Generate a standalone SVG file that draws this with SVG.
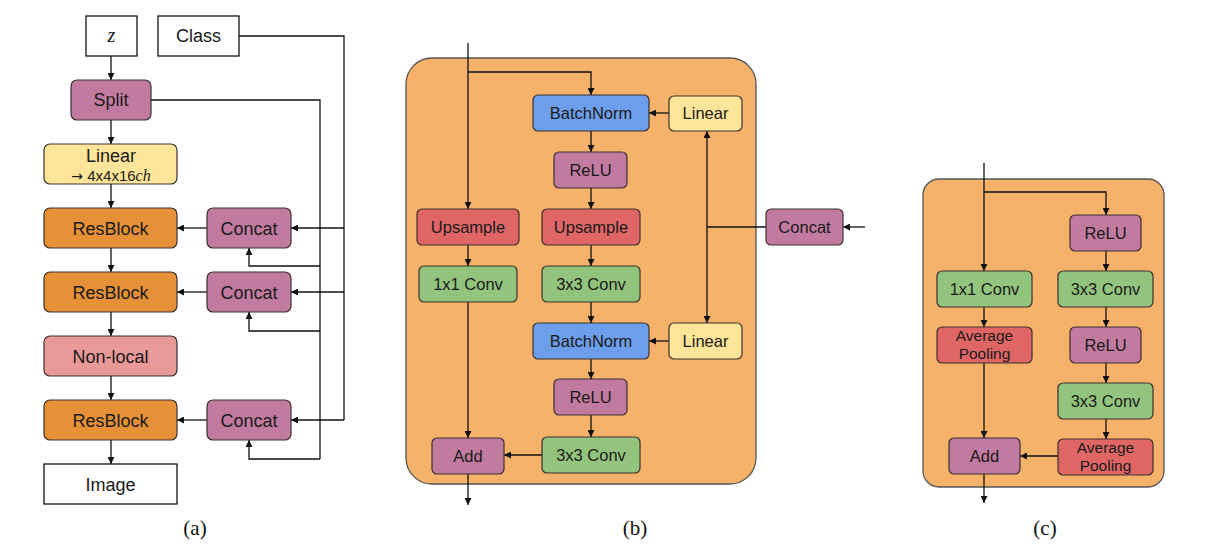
<svg xmlns="http://www.w3.org/2000/svg" width="1215" height="558" viewBox="0 0 1215 558">
<style>
.n{stroke:#3b3030;stroke-width:1.2}
.w{fill:#fff;stroke:#111;stroke-width:1.3}
.t{font-family:"Liberation Sans",Arial,sans-serif;font-size:18px;fill:#1a1a1a;text-anchor:middle}
.s{font-family:"Liberation Sans",Arial,sans-serif;font-size:16.5px;fill:#1a1a1a;text-anchor:middle}
.s2{font-family:"Liberation Sans",Arial,sans-serif;font-size:15.5px;fill:#1a1a1a;text-anchor:middle}
.lab{font-family:"Liberation Serif","Times New Roman",serif;font-size:21px;fill:#111;text-anchor:middle}
.res{fill:#e69138}.pur{fill:#c27ba0}.yel{fill:#ffe599}.pink{fill:#ea9999}
.red{fill:#e06666}.grn{fill:#93c47d}.blu{fill:#6d9eeb}
.c{fill:none;stroke:#111;stroke-width:1.3}
</style>
<defs>
<marker id="ah" viewBox="0 0 10 10" refX="10" refY="5" markerWidth="7" markerHeight="7" markerUnits="userSpaceOnUse" orient="auto">
<path d="M0,0 L10,5 L0,10 z" fill="#111"/>
</marker>
</defs>
<rect width="1215" height="558" fill="#fff"/>

<!-- panel backgrounds -->
<rect id="panel-b" x="406" y="58" width="350" height="426" rx="26" fill="#f6b26b" stroke="#555" stroke-width="1.3"/>
<rect id="panel-c" x="923" y="179" width="241" height="308" rx="16" fill="#f6b26b" stroke="#555" stroke-width="1.3"/>

<g id="connectors">
<!-- panel a -->
<line class="c" x1="111" y1="56" x2="111" y2="80" marker-end="url(#ah)"/>
<line class="c" x1="111" y1="120" x2="111" y2="144" marker-end="url(#ah)"/>
<line class="c" x1="111" y1="184" x2="111" y2="208" marker-end="url(#ah)"/>
<line class="c" x1="111" y1="248" x2="111" y2="272" marker-end="url(#ah)"/>
<line class="c" x1="111" y1="312" x2="111" y2="336" marker-end="url(#ah)"/>
<line class="c" x1="111" y1="376" x2="111" y2="400" marker-end="url(#ah)"/>
<line class="c" x1="111" y1="440" x2="111" y2="464" marker-end="url(#ah)"/>
<polyline class="c" points="239,36 344,36 344,420"/>
<line class="c" x1="344" y1="228" x2="291" y2="228" marker-end="url(#ah)"/>
<line class="c" x1="344" y1="292" x2="291" y2="292" marker-end="url(#ah)"/>
<line class="c" x1="344" y1="420" x2="291" y2="420" marker-end="url(#ah)"/>
<polyline class="c" points="151,100 320,100 320,459"/>
<polyline class="c" points="320,266 249,266 249,248" marker-end="url(#ah)"/>
<polyline class="c" points="320,331 249,331 249,312" marker-end="url(#ah)"/>
<polyline class="c" points="320,459 249,459 249,440" marker-end="url(#ah)"/>
<line class="c" x1="207" y1="228" x2="177" y2="228" marker-end="url(#ah)"/>
<line class="c" x1="207" y1="292" x2="177" y2="292" marker-end="url(#ah)"/>
<line class="c" x1="207" y1="420" x2="177" y2="420" marker-end="url(#ah)"/>

<!-- panel b -->
<line class="c" x1="468" y1="43" x2="468" y2="209" marker-end="url(#ah)"/>
<polyline class="c" points="468,72 591,72 591,95" marker-end="url(#ah)"/>
<line class="c" x1="669" y1="113" x2="649" y2="113" marker-end="url(#ah)"/>
<line class="c" x1="591" y1="131" x2="591" y2="152" marker-end="url(#ah)"/>
<line class="c" x1="591" y1="188" x2="591" y2="209" marker-end="url(#ah)"/>
<line class="c" x1="591" y1="245" x2="591" y2="266" marker-end="url(#ah)"/>
<line class="c" x1="468" y1="245" x2="468" y2="266" marker-end="url(#ah)"/>
<line class="c" x1="591" y1="302" x2="591" y2="323" marker-end="url(#ah)"/>
<line class="c" x1="707" y1="227" x2="707" y2="131" marker-end="url(#ah)"/>
<line class="c" x1="707" y1="227" x2="707" y2="323" marker-end="url(#ah)"/>
<line class="c" x1="766" y1="227" x2="707" y2="227"/>
<line class="c" x1="865" y1="227" x2="843" y2="227" marker-end="url(#ah)"/>
<line class="c" x1="669" y1="341" x2="649" y2="341" marker-end="url(#ah)"/>
<line class="c" x1="591" y1="359" x2="591" y2="379" marker-end="url(#ah)"/>
<line class="c" x1="591" y1="415" x2="591" y2="437" marker-end="url(#ah)"/>
<line class="c" x1="468" y1="302" x2="468" y2="438" marker-end="url(#ah)"/>
<line class="c" x1="542" y1="455" x2="504" y2="455" marker-end="url(#ah)"/>
<line class="c" x1="468" y1="474" x2="468" y2="505" marker-end="url(#ah)"/>

<!-- panel c -->
<line class="c" x1="984" y1="163" x2="984" y2="271" marker-end="url(#ah)"/>
<polyline class="c" points="984,192 1106,192 1106,215" marker-end="url(#ah)"/>
<line class="c" x1="1106" y1="251" x2="1106" y2="271" marker-end="url(#ah)"/>
<line class="c" x1="1106" y1="307" x2="1106" y2="327" marker-end="url(#ah)"/>
<line class="c" x1="1106" y1="363" x2="1106" y2="383" marker-end="url(#ah)"/>
<line class="c" x1="1106" y1="419" x2="1106" y2="439" marker-end="url(#ah)"/>
<line class="c" x1="984" y1="307" x2="984" y2="327" marker-end="url(#ah)"/>
<line class="c" x1="984" y1="363" x2="984" y2="438" marker-end="url(#ah)"/>
<line class="c" x1="1058" y1="456" x2="1020" y2="456" marker-end="url(#ah)"/>
<line class="c" x1="984" y1="474" x2="984" y2="503" marker-end="url(#ah)"/>
</g>

<!-- panel a nodes -->
<g id="a-z"><rect class="w" x="86" y="16" width="51" height="40"/><text x="111.5" y="42" style="font-family:'Liberation Serif',serif;font-style:italic;font-size:20px;fill:#1a1a1a;text-anchor:middle">z</text></g>
<g id="a-class"><rect class="w" x="158" y="16" width="81" height="40"/><text class="t" x="198.5" y="42">Class</text></g>
<g id="a-split"><rect class="n pur" x="71" y="80" width="80" height="40" rx="6"/><text class="t" x="111" y="106">Split</text></g>
<g id="a-linear"><rect class="n yel" x="44" y="144" width="133" height="40" rx="6"/><text class="t" x="111" y="162">Linear</text><text x="111" y="181" style="font-family:'Liberation Sans',Arial,sans-serif;font-size:15px;fill:#1a1a1a;text-anchor:middle"><tspan style="font-family:'DejaVu Sans',sans-serif;font-size:14px">→</tspan> 4x4x16<tspan style="font-family:'Liberation Serif',serif;font-style:italic;font-size:16px">ch</tspan></text></g>
<g id="a-res1"><rect class="n res" x="44" y="208" width="133" height="40" rx="6"/><text class="t" x="110.5" y="234.5">ResBlock</text></g>
<g id="a-res2"><rect class="n res" x="44" y="272" width="133" height="40" rx="6"/><text class="t" x="110.5" y="298.5">ResBlock</text></g>
<g id="a-nonlocal"><rect class="n pink" x="44" y="336" width="133" height="40" rx="6"/><text class="t" x="110.5" y="362.5">Non-local</text></g>
<g id="a-res3"><rect class="n res" x="44" y="400" width="133" height="40" rx="6"/><text class="t" x="110.5" y="426.5">ResBlock</text></g>
<g id="a-image"><rect class="w" x="44" y="464" width="133" height="40"/><text class="t" x="110.5" y="490.5">Image</text></g>
<g id="a-concat1"><rect class="n pur" x="207" y="208" width="84" height="40" rx="6"/><text class="t" x="249" y="234.5">Concat</text></g>
<g id="a-concat2"><rect class="n pur" x="207" y="272" width="84" height="40" rx="6"/><text class="t" x="249" y="298.5">Concat</text></g>
<g id="a-concat3"><rect class="n pur" x="207" y="400" width="84" height="40" rx="6"/><text class="t" x="249" y="426.5">Concat</text></g>

<!-- panel b nodes -->
<g id="b-bn1"><rect class="n blu" x="533" y="95" width="116" height="36" rx="5"/><text class="s" x="591" y="119">BatchNorm</text></g>
<g id="b-lin1"><rect class="n yel" x="669" y="96" width="73" height="35" rx="5"/><text class="s" x="705.5" y="119">Linear</text></g>
<g id="b-relu1"><rect class="n pur" x="554" y="152" width="73" height="36" rx="5"/><text class="s" x="590.5" y="176">ReLU</text></g>
<g id="b-up1"><rect class="n red" x="417" y="209" width="102" height="36" rx="5"/><text class="s" x="468" y="233">Upsample</text></g>
<g id="b-up2"><rect class="n red" x="542" y="209" width="98" height="36" rx="5"/><text class="s" x="591" y="233">Upsample</text></g>
<g id="b-conv1"><rect class="n grn" x="419" y="266" width="98" height="36" rx="5"/><text class="s" x="468" y="290">1x1 Conv</text></g>
<g id="b-conv3a"><rect class="n grn" x="542" y="266" width="98" height="36" rx="5"/><text class="s" x="591" y="290">3x3 Conv</text></g>
<g id="b-bn2"><rect class="n blu" x="533" y="323" width="116" height="36" rx="5"/><text class="s" x="591" y="347">BatchNorm</text></g>
<g id="b-lin2"><rect class="n yel" x="669" y="323" width="73" height="36" rx="5"/><text class="s" x="705.5" y="347">Linear</text></g>
<g id="b-concat"><rect class="n pur" x="766" y="209" width="77" height="36" rx="5"/><text class="s" x="804.5" y="233">Concat</text></g>
<g id="b-relu2"><rect class="n pur" x="554" y="379" width="73" height="36" rx="5"/><text class="s" x="590.5" y="403">ReLU</text></g>
<g id="b-conv3b"><rect class="n grn" x="542" y="437" width="98" height="36" rx="5"/><text class="s" x="591" y="461">3x3 Conv</text></g>
<g id="b-add"><rect class="n pur" x="432" y="438" width="72" height="36" rx="5"/><text class="s" x="468" y="462">Add</text></g>

<!-- panel c nodes -->
<g id="c-relu1"><rect class="n pur" x="1070" y="215" width="71" height="36" rx="5"/><text class="s" x="1105.5" y="239">ReLU</text></g>
<g id="c-conv1"><rect class="n grn" x="937" y="271" width="95" height="36" rx="5"/><text class="s" x="984.5" y="295">1x1 Conv</text></g>
<g id="c-conv3a"><rect class="n grn" x="1058" y="271" width="95" height="36" rx="5"/><text class="s" x="1105.5" y="295">3x3 Conv</text></g>
<g id="c-pool1"><rect class="n red" x="937" y="327" width="95" height="36" rx="5"/><text class="s2" x="984.5" y="341">Average</text><text class="s2" x="984.5" y="359">Pooling</text></g>
<g id="c-relu2"><rect class="n pur" x="1070" y="327" width="71" height="36" rx="5"/><text class="s" x="1105.5" y="351">ReLU</text></g>
<g id="c-conv3b"><rect class="n grn" x="1058" y="383" width="95" height="36" rx="5"/><text class="s" x="1105.5" y="407">3x3 Conv</text></g>
<g id="c-pool2"><rect class="n red" x="1058" y="439" width="95" height="36" rx="5"/><text class="s2" x="1105.5" y="453">Average</text><text class="s2" x="1105.5" y="471">Pooling</text></g>
<g id="c-add"><rect class="n pur" x="949" y="438" width="71" height="36" rx="5"/><text class="s" x="984.5" y="462">Add</text></g>

<!-- panel labels -->
<text class="lab" x="195" y="535">(a)</text>
<text class="lab" x="635" y="535">(b)</text>
<text class="lab" x="1045" y="535">(c)</text>
</svg>
